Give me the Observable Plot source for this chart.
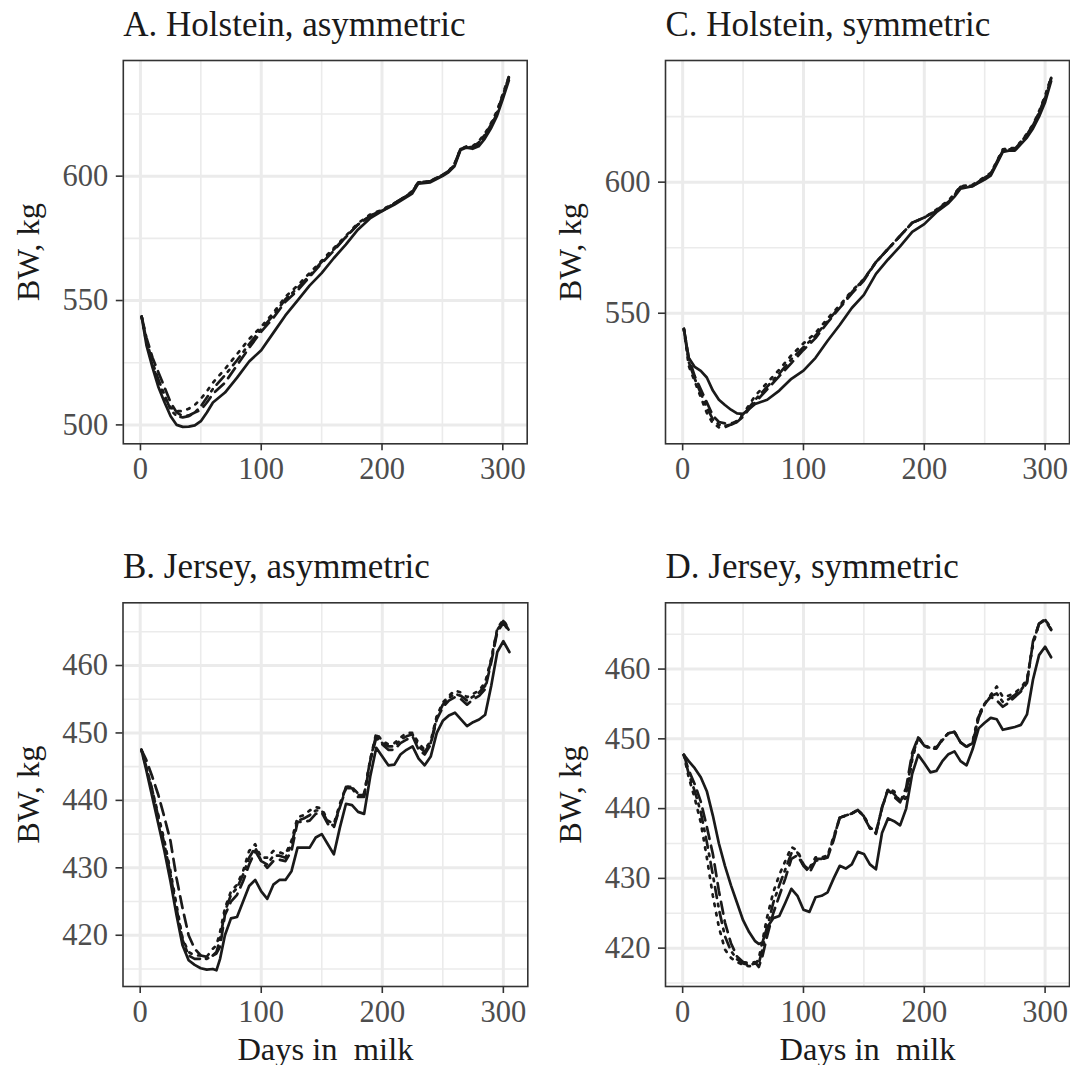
<!DOCTYPE html>
<html><head><meta charset="utf-8">
<script src="https://cdn.jsdelivr.net/npm/d3@7"></script>
<script src="https://cdn.jsdelivr.net/npm/@observablehq/plot@0.6"></script>
<style>
html,body{margin:0;padding:0;background:#fff;}
#wrap{position:relative;width:1070px;height:1065px;overflow:hidden;font-family:"Liberation Serif","Times New Roman",serif;}
.panel{position:absolute;}
.panel svg{display:block;overflow:visible;}
.panel svg text{white-space:pre;}
</style></head><body><div id="wrap"></div>
<script>
// ---------- data ----------
const xMajor = [0, 100, 200, 300];
const xMinor = [50, 150, 250];

const holsteinDays = [1,5,10,15,20,25,30,35,40,45,50,55,60,70,80,90,100,110,120,130,140,150,160,170,180,190,200,210,220,225,230,240,250,255,260,265,270,275,280,285,290,295,300,305];
const jerseyDays = [1,5,10,15,20,25,30,35,40,45,50,55,60,63,66,70,75,80,85,90,95,100,105,110,115,120,125,130,135,140,145,150,155,160,165,170,175,180,185,190,195,200,205,210,215,220,225,230,235,240,245,250,255,260,265,270,275,280,285,290,295,300,305];

// A. Holstein, asymmetric
const aSolid   = [543.5,532,523,515,509,503.5,500,499.2,499.3,499.8,501.5,505,509,513,519,525.5,530,537,544,550,556,561,567,572.5,578.5,583,586,588.5,591.5,593,597,597.5,600,601.5,604,610.5,611.5,611,612,615,619,624,631,638.5];
const aDashed  = [543.5,535,527,521,515,509,505,503.5,503.8,505,506,509,512.5,517,524,531,537.5,543,549.5,554,559.5,565,570,575.5,580.5,584,586,589,592,593.5,597.5,598,600.5,602,604.5,611,611.5,611.5,613,616,620,625,632,639.5];
const aDotted  = [543.5,533,524,517,511,507,505.5,505.5,506.5,508,510.5,513.5,517,522.5,528.5,534.5,539.5,545,551.5,556,561,566,571,576,581,584.5,586.5,589,592,594,597.5,598,600.5,602,605,611,612,612,614,617,621,626,633,640];
const aDotdash = [543.5,534,525,518,512,506,503.5,503,503.5,505,507.5,511,514.5,520,526,532.5,538.5,544,550.5,555,560,565.5,570.5,575.5,580.5,584,586.3,589,592,593.7,597.3,597.8,600.3,601.8,604.7,611,611.7,611.7,613.5,616.5,620.5,625.5,632.5,639.8];

// C. Holstein, symmetric
const cSolid   = [544,533,529.5,528,525.5,520.5,517,515,513.2,511.8,511.6,513.5,515.4,517,520.5,525,528.1,533,539.5,545.5,552,557,565,570.5,575.5,581,584,588.5,592,594.5,597.5,598.5,601,602.5,607,611.5,612,612,614.5,617,620.5,625,630.5,638.5];
const cDashed  = [544,533,526,521,516,511,508.5,508,508,508.5,510.5,513.5,516,521,526,531,536,540.5,546.5,552,557.5,562.5,569.5,574.5,579.5,584.5,586.5,589,592.5,595,598,598.5,601.5,603,607.5,612,612.5,612.5,615,618,621.5,626,632,639.5];
const cDotted  = [544,530,524,518,512,508,506.5,506.5,507.5,509,511.5,515,518.5,523.5,528.5,534,538.5,542.5,548,553,558.5,563,569.5,574.5,579.5,584.5,586.5,589.5,593,595.5,598.5,599,602,603.5,608,612.5,613,613,615.5,618.5,622,627,633,640];
const cDotdash = [544,531.5,525,519.5,514,509.5,507.5,507,507.5,508.5,511,514,517,522,527,532.5,537,541.5,547,552.5,558,563,569.5,574.5,579.5,584.5,586.5,589.2,592.7,595.2,598.2,598.7,601.7,603.2,607.7,612.2,612.7,612.7,615.2,618.2,621.7,626.5,632.5,639.8];

// B. Jersey, asymmetric
const bSolid   = [447.5,444.5,440.5,436.5,432.5,428,423,418.5,416.3,415.6,415.1,414.9,415,414.8,416.5,420,422.5,422.7,425,427.3,428.2,426.5,425.4,427.5,428.2,428.2,429.5,433,433,433,434.5,435,433.5,432,436,439.5,439.3,438.3,438,443.5,447.8,446.5,445.2,445.3,446.8,447.5,448,446.2,445.2,446.5,450,451.8,452.6,453,452,451,451.6,452,452.7,457,462,463.6,462];
const bDashed  = [447.5,446,443.5,440.8,437.5,434,428.5,424,420,418,417,416.8,417,417.3,418.3,423,425,426,428,430.5,432.5,431,430,431,431.2,431,432.5,436.8,436.8,437,438,438.2,436.5,436,439,441.8,441.8,440.5,440.5,445.8,449.3,448.3,447.5,447.5,448.5,449,449.5,447.5,446.8,448.3,452,453.8,454.8,455.3,455,454.2,455,455.5,456.5,460.5,465,466.3,465];
const bDotted  = [447.5,445,441.5,437.8,434,429.5,424.5,419.5,417.5,417,417,416.8,418,418.5,420.5,424,426.5,427.5,429.5,432.5,433.5,431.5,431.5,432.5,432.3,432,434,437.5,437.8,438.5,439,438.8,437,436.5,439.5,442,442,441,441,446,450,448.8,448.3,448.5,449.3,450,450,448.5,447.5,448.8,452.5,454.5,455.5,456.3,456,455.3,455.8,456.3,457.5,461,465.5,466.8,465.2];
const bDotdash = [447.5,445,441.5,437.5,433.5,429,424,419.3,417,416.5,416.5,416.5,417,417.5,419.5,423.5,426,427,429,431.5,433,431,430.5,431.8,431.8,431.5,433.5,437,437.3,437.8,438.5,438.5,436.8,436.2,439.2,442,442,440.8,440.8,446,449.7,448.5,448,448,449,449.5,449.8,448,447.2,448.5,452.3,454.2,455.2,455.8,455.5,454.8,455.4,456,457,460.8,465.3,466.6,465.1];

// D. Jersey, symmetric
const dSolid   = [447.7,446.8,445.8,444.5,442.5,439,435,431.8,429,426.5,424,422.3,421,420.6,420.8,423,424.3,424.6,426.5,428.5,427.5,425.5,425.2,427.3,427.5,428,430,431.8,431.4,432,433.8,433.5,432,431.3,436.5,438.6,438.2,437.6,440,445,447.7,446.5,445.2,445.4,446.8,447.8,448.2,446.8,446.2,448.5,451.5,452.3,453,452.8,451.3,451.5,451.7,452,453.5,458.5,462,463.2,461.7];
const dDashed  = [447.7,445.5,443.5,441,437.4,433.5,428.2,423.7,420.7,418.8,418,417.9,418,417.3,418.8,421.8,425,427.5,430,432.8,433.3,431.8,430.8,432.5,432.7,433,435.5,438.7,439,439.3,439.8,438.8,437.2,436.4,440.2,442.7,441.7,440.9,443,448,450.2,449,448.6,448.6,450,450.8,451,449.5,448.9,449.3,453,455,456,455.5,454.6,455.2,456,456.8,458,464,466.5,467,465.6];
const dDotted  = [447.7,444.5,441.5,438,433,427.5,423,419.8,418.6,418,417.6,417.4,417.6,418.5,421,424.5,428,430.5,432.5,434.5,434,432,431.5,433,433,433.3,436,438.7,439,439.3,439.8,439,437.3,436.7,440,442.8,442.5,441,441.5,447,450.3,449,448.8,448.8,449.8,450.8,451,449.5,448.8,449.6,453.5,455,456.3,457.5,456,456.2,456.6,457.3,458.5,463.5,466.5,467.2,465.8];
const dDotdash = [447.7,445,442.5,439.5,435.2,430.5,425.6,421.7,419.6,418.4,417.8,417.6,417.8,417.8,419.8,423,426.5,429,431.3,433.6,433.7,431.9,431.2,432.8,432.8,433.2,435.8,438.7,439,439.3,439.8,438.9,437.2,436.5,440.1,442.8,442.1,441,442.2,447.5,450.2,449,448.7,448.7,449.9,450.8,451,449.5,448.8,449.4,453.2,455,456.1,456.5,455.3,455.7,456.3,457,458.2,463.8,466.5,467.1,465.7];

const titles = ["A. Holstein, asymmetric", "C. Holstein, symmetric", "B. Jersey, asymmetric", "D. Jersey, symmetric"];
const yLabel = "BW, kg";
const xLabel = "Days in  milk";

// ---------- drawing ----------
const lineStyles = [
  {name: "solid",   dash: null},
  {name: "dashed",  dash: "12,7"},
  {name: "dotted",  dash: "2.5,7"},
  {name: "dotdash", dash: "2.5,6,11,6"}
];

const panels = [
  {title: titles[0], days: holsteinDays, series: [aSolid, aDashed, aDotted, aDotdash],
   yDomain: [492.4, 646.5], yMajor: [500, 550, 600], yMinor: [525, 575, 625],
   left: 0, top: 0, height: 540, mL: 122.8, mR: 8.3, mT: 60, mB: 96.7, xTitle: false},
  {title: titles[1], days: holsteinDays, series: [cSolid, cDashed, cDotted, cDotdash],
   yDomain: [500.2, 646.4], yMajor: [550, 600], yMinor: [525, 575, 625],
   left: 535, top: 0, height: 540, mL: 130, mR: 1, mT: 60, mB: 96.7, xTitle: false},
  {title: titles[2], days: jerseyDays, series: [bSolid, bDashed, bDotted, bDotdash],
   yDomain: [412.4, 469.3], yMajor: [420, 430, 440, 450, 460], yMinor: [415, 425, 435, 445, 455, 465],
   left: 0, top: 540, height: 525, mL: 122.5, mR: 7.7, mT: 62.3, mB: 79, xTitle: true},
  {title: titles[3], days: jerseyDays, series: [dSolid, dDashed, dDotted, dDotdash],
   yDomain: [414.5, 469.5], yMajor: [420, 430, 440, 450, 460], yMinor: [415, 425, 435, 445, 455, 465],
   left: 535, top: 540, height: 525, mL: 130, mR: 1, mT: 62.3, mB: 79, xTitle: true}
];

const wrap = document.getElementById("wrap");
const gridColor = "#ebebeb";
const ink = "#1a1a1a";

for (const p of panels) {
  const lineMarks = p.series.map((vals, i) => {
    const rows = p.days.map((d, j) => ({day: d, bw: vals[j]}));
    const opts = {x: "day", y: "bw", stroke: ink, strokeWidth: 2.7, strokeLinejoin: "round"};
    if (lineStyles[i].dash) opts.strokeDasharray = lineStyles[i].dash;
    return Plot.line(rows, opts);
  });
  const marks = [
    Plot.gridX({ticks: xMinor, stroke: gridColor, strokeOpacity: 1, strokeWidth: 1.6}),
    Plot.gridY({ticks: p.yMinor, stroke: gridColor, strokeOpacity: 1, strokeWidth: 1.6}),
    Plot.gridX({ticks: xMajor, stroke: gridColor, strokeOpacity: 1, strokeWidth: 3}),
    Plot.gridY({ticks: p.yMajor, stroke: gridColor, strokeOpacity: 1, strokeWidth: 3}),
    ...lineMarks,
    Plot.frame({stroke: "#333333", strokeWidth: 1.6}),
    Plot.axisX({ticks: xMajor, tickSize: 7, tickPadding: 7, stroke: "#333333", strokeWidth: 1.6,
                fill: "#4d4d4d", fontSize: 30.5, label: null, tickFormat: d => String(d)}),
    Plot.axisY({ticks: p.yMajor, tickSize: 7, tickPadding: 8, stroke: "#333333", strokeWidth: 1.6,
                fill: "#4d4d4d", fontSize: 30.5, label: null, tickFormat: d => String(d)}),
    Plot.text([p.title], {text: d => d, frameAnchor: "top-left", textAnchor: "start", lineAnchor: "bottom",
                dy: -25, fontSize: 35, fill: ink}),
    Plot.text([yLabel], {text: d => d, frameAnchor: "left", rotate: -90, textAnchor: "middle", lineAnchor: "top",
                dx: -107.5, fontSize: 32.5, fill: ink})
  ];
  if (p.xTitle) {
    marks.push(Plot.text([xLabel], {text: d => d, frameAnchor: "bottom", textAnchor: "middle", lineAnchor: "bottom",
                dy: 73, fontSize: 32.5, fill: ink}));
  }
  const chart = Plot.plot({
    width: 535,
    height: p.height,
    marginLeft: p.mL, marginRight: p.mR, marginTop: p.mT, marginBottom: p.mB,
    x: {domain: [-14.2, 320.2]},
    y: {domain: p.yDomain},
    style: {fontFamily: '"Liberation Serif", "Times New Roman", serif', background: "transparent", overflow: "visible"},
    marks
  });
  const div = document.createElement("div");
  div.className = "panel";
  div.style.left = p.left + "px";
  div.style.top = p.top + "px";
  div.appendChild(chart);
  wrap.appendChild(div);
}
</script>
</body></html>
